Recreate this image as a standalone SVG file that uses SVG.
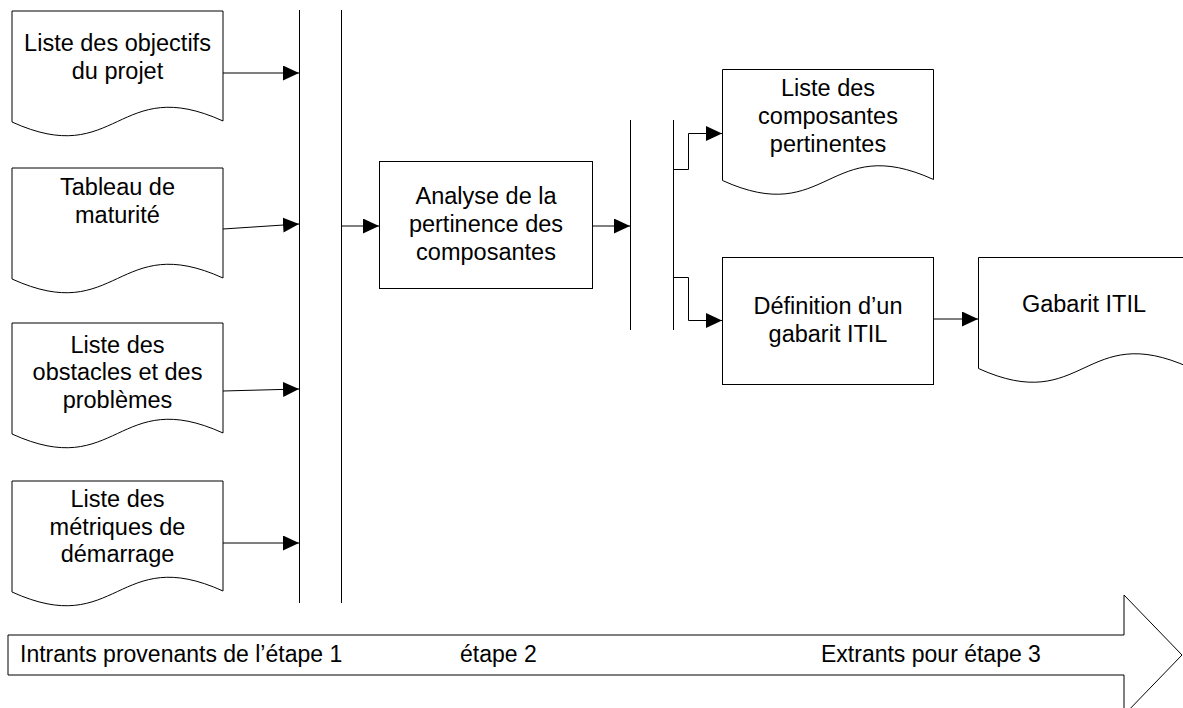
<svg xmlns="http://www.w3.org/2000/svg" width="1183" height="708" viewBox="0 0 1183 708">
<style>
.shape{fill:#fff;stroke:#000;stroke-width:1}
.ln{fill:none;stroke:#000;stroke-width:1}
.t{font-family:"Liberation Sans",Arial,Helvetica,sans-serif;font-size:23.5px;fill:#000;text-anchor:middle}
.bt{font-family:"Liberation Sans",Arial,Helvetica,sans-serif;font-size:23px;fill:#000}
</style>
<defs>
<marker id="ah" markerUnits="userSpaceOnUse" markerWidth="16" markerHeight="15" refX="16" refY="7.5" orient="auto">
<path d="M0,0 L16,7.5 L0,15 Z" fill="#000"/>
</marker>
<path id="doc" d="M0,0 H211 V110 C105.5,62 105.5,159 0,111 Z"/>
</defs>
<rect width="1183" height="708" fill="#fff"/>

<g id="timeline">
<path class="shape" d="M8,635 H1124 V595 L1182,655 L1124,715 V675 H8 Z"/>
<text class="bt" x="20" y="662">Intrants provenants de l’étape 1</text>
<text class="bt" x="460" y="662">étape 2</text>
<text class="bt" x="821" y="662">Extrants pour étape 3</text>
</g>

<g id="bars">
<line class="ln" x1="299.5" y1="10" x2="299.5" y2="603"/>
<line class="ln" x1="341.5" y1="10" x2="341.5" y2="603"/>
<line class="ln" x1="630.5" y1="120" x2="630.5" y2="330"/>
<line class="ln" x1="673.5" y1="120" x2="673.5" y2="330"/>
</g>

<g id="doc1">
<use href="#doc" class="shape" transform="translate(12,11)"/>
<text class="t" x="117.5" y="51">Liste des objectifs</text>
<text class="t" x="117.5" y="79">du projet</text>
</g>
<g id="doc2">
<use href="#doc" class="shape" transform="translate(12,168)"/>
<text class="t" x="117.5" y="195">Tableau de</text>
<text class="t" x="117.5" y="222.5">maturité</text>
</g>
<g id="doc3">
<use href="#doc" class="shape" transform="translate(12,323)"/>
<text class="t" x="117.5" y="352.5">Liste des</text>
<text class="t" x="117.5" y="380">obstacles et des</text>
<text class="t" x="117.5" y="407.5">problèmes</text>
</g>
<g id="doc4">
<use href="#doc" class="shape" transform="translate(12,481)"/>
<text class="t" x="117.5" y="507">Liste des</text>
<text class="t" x="117.5" y="535">métriques de</text>
<text class="t" x="117.5" y="562">démarrage</text>
</g>

<g id="analyse">
<rect class="shape" x="379.5" y="161.5" width="213" height="127"/>
<text class="t" x="486" y="203.5">Analyse de la</text>
<text class="t" x="486" y="231.5">pertinence des</text>
<text class="t" x="486" y="259.5">composantes</text>
</g>

<g id="composantes">
<use href="#doc" class="shape" transform="translate(722.5,69.5)"/>
<text class="t" x="828" y="96">Liste des</text>
<text class="t" x="828" y="124">composantes</text>
<text class="t" x="828" y="152">pertinentes</text>
</g>

<g id="definition">
<rect class="shape" x="722.5" y="257.5" width="211" height="127"/>
<text class="t" x="828" y="313.5">Définition d’un</text>
<text class="t" x="828" y="341.5">gabarit ITIL</text>
</g>

<g id="gabarit">
<use href="#doc" class="shape" transform="translate(978.5,257.5)"/>
<text class="t" x="1084" y="312">Gabarit ITIL</text>
</g>

<g id="connectors">
<line class="ln" x1="223" y1="73" x2="299" y2="73" marker-end="url(#ah)"/>
<line class="ln" x1="223" y1="229" x2="299" y2="224" marker-end="url(#ah)"/>
<line class="ln" x1="223" y1="391" x2="299" y2="389" marker-end="url(#ah)"/>
<line class="ln" x1="223" y1="543" x2="299" y2="543" marker-end="url(#ah)"/>
<line class="ln" x1="341" y1="226" x2="379" y2="226" marker-end="url(#ah)"/>
<line class="ln" x1="592" y1="226" x2="630" y2="226" marker-end="url(#ah)"/>
<polyline class="ln" points="673,169.5 688.5,169.5 688.5,133.5 722,133.5" marker-end="url(#ah)"/>
<polyline class="ln" points="673,277.5 688.5,277.5 688.5,320.5 722,320.5" marker-end="url(#ah)"/>
<line class="ln" x1="934" y1="319" x2="978" y2="319" marker-end="url(#ah)"/>
</g>
</svg>
